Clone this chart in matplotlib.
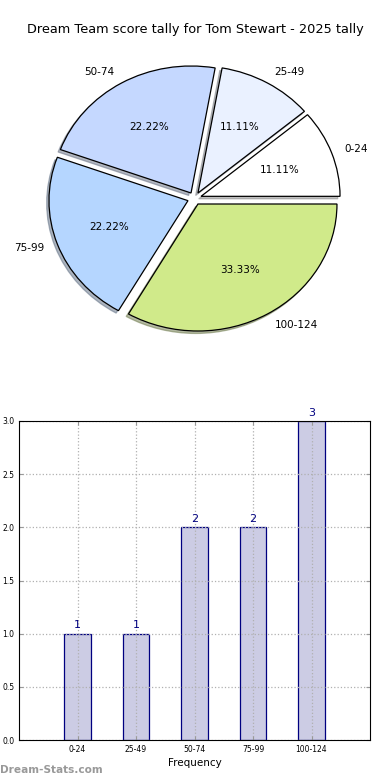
import matplotlib
matplotlib.use("Agg")
import matplotlib.pyplot as plt
import numpy as np

# data
ranges = ['0-24', '25-49', '50-74', '75-99', '100-124']
counts = [1, 1, 2, 2, 3]
pie_colors = ['#ffffff', '#eaf1ff', '#c5d8ff', '#b5d6ff', '#d0ea8a']
title = 'Dream Team score tally for Tom Stewart - 2025 tally'

fig = plt.figure(figsize=(3.9, 7.8), dpi=100)

fig.text(0.5, 1 - 30/780, title, ha='center', va='center', fontsize=9.3)

# pie (slightly wider than tall, like the original)
ax1 = fig.add_axes([0, (780-350)/780, 1, 300/780])
wedges, texts, autotexts = ax1.pie(counts, labels=ranges, colors=pie_colors,
                                   explode=[0.05]*len(counts),
                                   shadow={'ox': -0.012, 'oy': -0.014, 'shade': 0.5},
                                   autopct='%.2f%%', startangle=0,
                                   wedgeprops={'edgecolor': 'black', 'linewidth': 0.9},
                                   textprops={'fontsize': 7.5})
pxx, pxy = 139.0, 127.0
cx, cy = 194.5, 198.5
ax1.set_aspect('auto')
ax1.set_xlim(-cx/pxx, (390-cx)/pxx)
ax1.set_ylim(-(350-cy)/pxy, (cy-50)/pxy)

# bar chart
ax2 = fig.add_axes([19/390, 40/780, 351/390, 319/780])
x = np.arange(len(ranges))
ax2.bar(x, counts, width=0.45, color='#ccccE4', edgecolor='navy', linewidth=0.9, zorder=1)
for xi, c in zip(x, counts):
    ax2.text(xi, c + 0.03, str(c), ha='center', va='bottom', color='navy', fontsize=8)
ax2.set_xlim(-1, 5)
ax2.set_ylim(0, 3)
ax2.set_xticks(x)
ax2.set_xticklabels(ranges)
ax2.set_yticks(np.arange(0, 3.01, 0.5))
ax2.tick_params(labelsize=5.5, direction='in', top=True, right=True, length=3, color='#999999')
ax2.grid(True, linestyle=':', color='#b0b0b0', linewidth=0.9)
ax2.set_axisbelow('line')
ax2.set_xlabel('Frequency', fontsize=7.5, labelpad=3)

fig.text(0.0, 1 - 770/780, 'Dream-Stats.com', ha='left', va='center',
         fontsize=7.6, color='#999999', fontweight='bold')

fig.savefig('out.png', dpi=100)
